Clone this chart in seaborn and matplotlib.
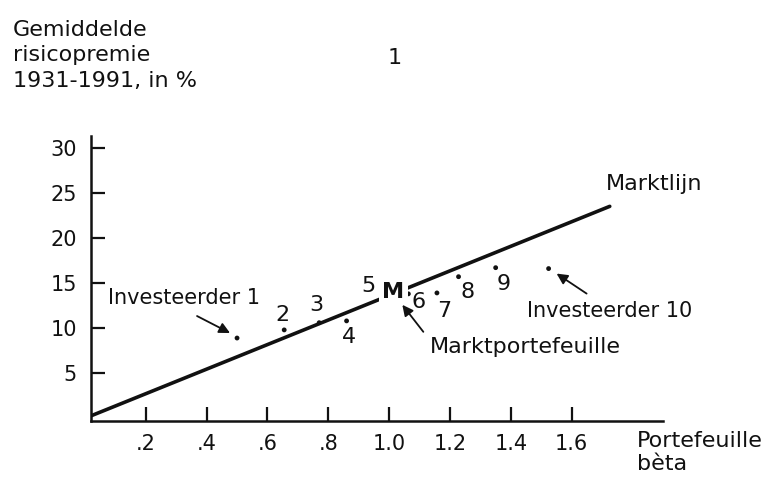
import matplotlib
matplotlib.use("Agg")
import matplotlib.pyplot as plt
from matplotlib.text import OffsetFrom
import seaborn as sns
import pandas as pd

# Average risk premium 1931-1991 (%) against portfolio beta
point_names = ["Investeerder 1", "2", "3", "4", "M", "7", "8", "9", "Investeerder 10"]
point_betas = [0.50, 0.655, 0.77, 0.86, 1.063, 1.157, 1.228, 1.35, 1.524]
point_premiums = [8.9, 9.8, 10.6, 10.8, 13.8, 13.9, 15.7, 16.7, 16.6]

# Security market line
line_betas = [0.0, 1.725]
line_premiums = [0.0, 23.5]

x_ticks = [0.2, 0.4, 0.6, 0.8, 1.0, 1.2, 1.4, 1.6]
x_tick_labels = [".2", ".4", ".6", ".8", "1.0", "1.2", "1.4", "1.6"]
y_ticks = [5, 10, 15, 20, 25, 30]

points = pd.DataFrame({"name": point_names, "beta": point_betas, "premie": point_premiums})
market = pd.DataFrame({"beta": line_betas, "premie": line_premiums})

sns.set_theme(style="white")
plt.rcParams["font.family"] = ["DejaVu Sans"]
INK = "#111111"

fig = plt.figure(figsize=(7.74, 4.8), dpi=100)
ax = fig.add_axes([91 / 774, 59 / 480, 572 / 774, 285 / 480])

sns.lineplot(data=market, x="beta", y="premie", ax=ax, color=INK, lw=2.6, zorder=2)
sns.scatterplot(data=points, x="beta", y="premie", ax=ax, color=INK, s=12,
                edgecolor="none", zorder=4)

ax.set_xlim(0.02, 1.9)
ax.set_ylim(-0.3, 31.3)
ax.set_xticks(x_ticks, x_tick_labels)
ax.set_yticks(y_ticks)
ax.set_ylabel("")
ax.set_xlabel("")
for side in ("top", "right"):
    ax.spines[side].set_visible(False)
for side in ("left", "bottom"):
    ax.spines[side].set_color(INK)
    ax.spines[side].set_linewidth(1.8)
ax.tick_params(axis="both", direction="in", length=10, width=1.6, color=INK,
               labelcolor=INK, labelsize=15, bottom=True, left=True)
ax.tick_params(axis="x", pad=9)
ax.tick_params(axis="y", pad=10)

pts = points.set_index("name")


def label(name, text, dx, dy, ha="center", va="center", size=16, **kw):
    x, y = pts.loc[name, ["beta", "premie"]]
    return ax.annotate(text, xy=(x, y), xytext=(dx, dy), textcoords="offset pixels",
                       ha=ha, va=va, fontsize=size, color=INK, zorder=5, **kw)


def arrow(name, tail, tip):
    x, y = pts.loc[name, ["beta", "premie"]]
    anchor = OffsetFrom(ax.transData, (x, y), unit="pixels")
    ax.annotate("", xy=tip, xycoords=anchor,
                xytext=(tail[0] - tip[0], tail[1] - tip[1]), textcoords="offset pixels",
                arrowprops=dict(arrowstyle="-|>", color=INK, lw=1.3,
                                shrinkA=0, shrinkB=0, mutation_scale=16))


# portfolio numbers
label("2", "2", -2, 15)
label("3", "3", -3, 18)
label("4", "4", 2, -16)
label("M", "5", -40, 8)
label("M", "M", -15, 2, fontweight="bold",
      bbox=dict(boxstyle="square,pad=0.15", fc="white", ec="none"))
label("M", "6", 10, -8)
label("7", "7", 7, -18)
label("8", "8", 9, -15)
label("9", "9", 8, -16)

# investors and the market portfolio
label("Investeerder 1", "Investeerder 1", -129, 40, ha="left", size=15)
arrow("Investeerder 1", (-40, 22), (-7, 5))
label("Investeerder 10", "Investeerder 10", -22, -42, ha="left", size=15)
arrow("Investeerder 10", (38, -25), (8, -5))
label("M", "Marktportefeuille", 22, -53, ha="left", size=16)
arrow("M", (15, -38), (-6, -11))

# market line caption
ax.annotate("Marktlijn", xy=(line_betas[-1], line_premiums[-1]), xytext=(-4, 22),
            textcoords="offset pixels", ha="left", va="center", fontsize=16,
            color=INK, annotation_clip=False)

# axis titles
fig.text(13 / 774, 1 - 20 / 480, "Gemiddelde\nrisicopremie\n1931-1991, in %",
         ha="left", va="top", fontsize=16, color=INK, linespacing=1.34)
fig.text(395 / 774, 1 - 58 / 480, "1", ha="center", va="center", fontsize=16, color=INK)
ax.set_xlabel("Portefeuille\nbèta", fontsize=16, color=INK, ha="left", va="top",
              linespacing=1.2)
ax.xaxis.set_label_coords((637 - 91) / 572, (421 - 431) / 285)

fig.savefig("out.png", dpi=100)
